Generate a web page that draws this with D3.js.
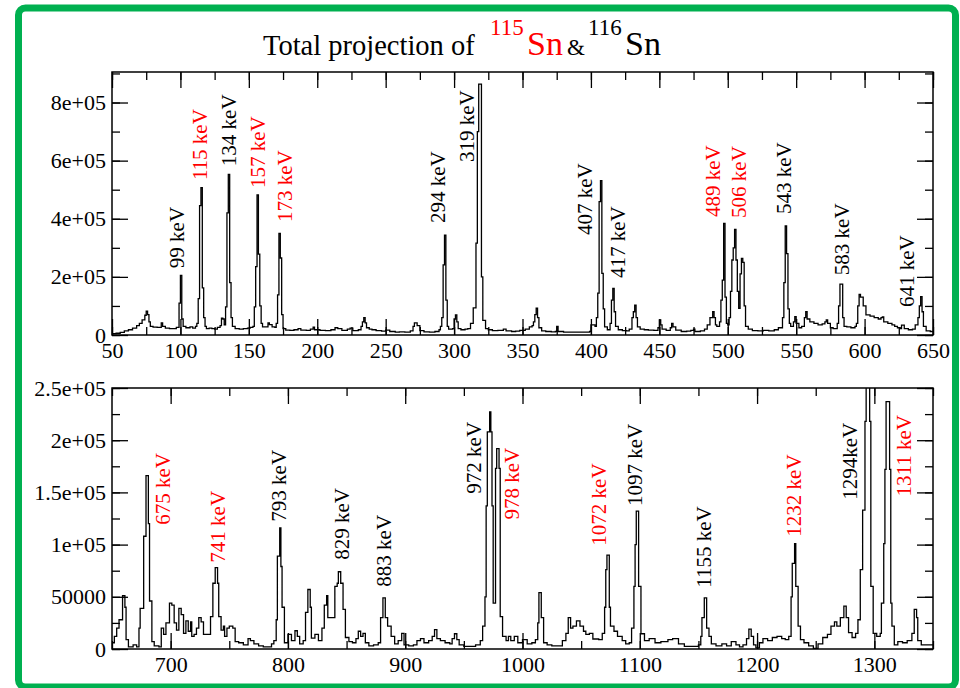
<!DOCTYPE html>
<meta charset="utf-8">
<body style="margin:0">
<svg id="chart" width="960" height="688"></svg>
<script src="https://cdn.jsdelivr.net/npm/d3@7"></script>
<script>

// top spectrum 50-650 keV, [energy, counts]
var topSpectrum = [
  [50,5000],[53,6000],[56,9000],[59,14000],[62,18000],[65,24000],[68,32000],[70,40000],[72,52000],[74,68000],
  [75,82000],[76,70000],[77,45000],[78,30000],[80,27000],[83,26000],[86,42000],[87,30000],[89,24000],[92,22000],
  [95,22000],[97,26000],[99,110000],[100,205000],[101,55000],[102,30000],[104,25000],[107,28000],[109,24000],[111,30000],
  [112,40000],[113,125000],[114,445000],[115,507000],[116,162000],[117,60000],[118,30000],[119,22000],[121,24000],[123,22000],
  [125,20000],[127,26000],[129,32000],[130,58000],[131,55000],[132,35000],[133,97000],[134,420000],[135,553000],[136,180000],
  [137,60000],[138,30000],[140,22000],[143,20000],[146,22000],[149,24000],[151,26000],[153,30000],[154,97000],[155,235000],
  [156,482000],[157,278000],[158,100000],[159,40000],[160,28000],[162,28000],[164,42000],[165,36000],[167,28000],[169,26000],
  [170,40000],[171,138000],[172,350000],[173,265000],[174,70000],[175,22000],[177,17000],[180,16000],[183,18000],[186,22000],
  [188,17000],[192,16000],[195,20000],[197,27000],[198,18000],[202,16000],[206,15000],[210,18000],[213,25000],[215,22000],
  [218,16000],[222,20000],[224,24000],[226,15000],[230,18000],[232,30000],[233,45000],[234,60000],[235,42000],[236,25000],
  [238,20000],[240,18000],[243,15000],[247,13000],[250,17000],[253,12000],[257,10000],[260,11000],[264,10000],[268,14000],
  [270,30000],[271,42000],[273,32000],[275,15000],[278,11000],[282,10000],[286,12000],[289,18000],[290,30000],[291,60000],
  [292,241000],[293,344000],[294,120000],[295,30000],[296,20000],[299,22000],[300,55000],[301,69000],[302,45000],[303,22000],
  [305,18000],[308,20000],[310,22000],[312,40000],[314,93000],[316,316000],[317,700000],[318,863000],[320,200000],[321,50000],
  [323,22000],[325,18000],[328,15000],[332,16000],[336,20000],[338,14000],[342,12000],[345,13000],[348,16000],[352,20000],
  [355,28000],[357,32000],[358,45000],[359,70000],[360,92000],[361,60000],[362,25000],[364,14000],[367,12000],[371,11000],
  [374,12000],[375,30000],[376,12000],[380,10000],[385,10000],[390,10000],[395,10000],[399,12000],[400,35000],[403,30000],
  [404,60000],[405,144000],[406,459000],[407,531000],[408,212000],[409,90000],[410,28000],[412,18000],[414,40000],[415,120000],
  [416,160000],[417,80000],[418,30000],[420,18000],[423,15000],[426,14000],[428,20000],[430,60000],[431,80000],[432,103000],
  [433,60000],[434,28000],[436,20000],[439,18000],[442,17000],[446,16000],[449,25000],[450,52000],[451,35000],[452,20000],
  [455,16000],[458,25000],[459,40000],[460,28000],[462,17000],[466,12000],[470,13000],[473,16000],[475,20000],[476,12000],
  [480,14000],[483,20000],[485,35000],[487,60000],[489,80000],[490,60000],[491,35000],[492,30000],[494,45000],[495,120000],
  [496,189000],[497,384000],[498,130000],[499,40000],[500,35000],[501,60000],[502,150000],[503,258000],[504,300000],[505,363000],
  [506,258000],[507,150000],[508,92000],[509,210000],[510,264000],[511,250000],[512,100000],[513,30000],[515,20000],[518,15000],
  [522,14000],[526,16000],[530,14000],[534,18000],[537,25000],[540,60000],[541,180000],[542,375000],[543,280000],[544,90000],
  [545,40000],[546,30000],[548,45000],[549,63000],[550,40000],[552,25000],[554,30000],[556,60000],[557,80000],[558,55000],
  [560,45000],[563,40000],[566,35000],[569,38000],[571,45000],[572,52000],[573,40000],[575,25000],[577,22000],[580,40000],
  [581,100000],[582,175000],[583,175000],[584,60000],[585,30000],[587,28000],[590,25000],[593,30000],[594,40000],[595,100000],
  [596,140000],[597,130000],[599,100000],[601,69000],[604,65000],[607,60000],[610,55000],[612,60000],[613,62000],[614,45000],
  [617,40000],[620,35000],[622,30000],[624,25000],[626,22000],[627,34000],[628,34000],[629,22000],[632,18000],[635,20000],
  [637,35000],[639,60000],[640,100000],[641,132000],[642,80000],[643,30000],[645,14000],[648,12000],[650,12000]
];

// bottom spectrum 650-1350 keV, [energy, counts]
var bottomSpectrum = [
  [650,6000],[652,12000],[654,20000],[656,28000],[659,51000],[661,40000],[662,9000],[664,2000],[668,4000],[671,2000],
  [673,20000],[674,39000],[677,108000],[679,166000],[681,120000],[682,46000],[684,7000],[686,3000],[690,2000],[692,20000],
  [694,14000],[696,25000],[699,44000],[701,42000],[703,25000],[705,18000],[707,39000],[709,33000],[711,15000],[713,27000],
  [715,17000],[717,26000],[718,12000],[720,14000],[722,20000],[724,30000],[726,26000],[728,14000],[731,14000],[734,31000],
  [736,63000],[738,78000],[740,63000],[741,31000],[743,18000],[745,22000],[746,12000],[748,20000],[750,22000],[753,20000],
  [755,7000],[758,6000],[762,4000],[766,10000],[768,8000],[771,5000],[775,3000],[779,2000],[783,2000],[786,5000],
  [788,8000],[790,28000],[791,89000],[793,116000],[794,79000],[795,40000],[797,6000],[800,14000],[803,8000],[806,17500],
  [808,12000],[810,5000],[813,8000],[815,35000],[817,57000],[819,40000],[820,10500],[823,14000],[826,8000],[829,20000],
  [831,42000],[833,51000],[834,30000],[838,30000],[840,60000],[842,63000],[843,74000],[845,63000],[847,38000],[849,11000],
  [852,7000],[855,6000],[858,10000],[860,17000],[862,12000],[864,15000],[866,6000],[869,3000],[873,4000],[877,6000],
  [879,30000],[881,49000],[883,30000],[885,22000],[888,12000],[891,5000],[894,8000],[897,15000],[899,4000],[903,3000],
  [907,4000],[910,8000],[913,10000],[916,6000],[920,8000],[923,12000],[925,18500],[927,10000],[930,8000],[934,6000],
  [938,5000],[940,10000],[942,14600],[944,9000],[946,4000],[950,2500],[955,2500],[960,4000],[964,8000],[966,22000],
  [968,50000],[969,137000],[970,208000],[972,227000],[973,208000],[974,137000],[975,44000],[977,173000],[978,192000],[980,173000],
  [981,31000],[983,12000],[986,8000],[988,12000],[990,8000],[993,12000],[996,6000],[1000,9000],[1004,5000],[1008,6000],
  [1011,9000],[1013,25000],[1014,54000],[1016,30000],[1018,6000],[1021,4000],[1025,3000],[1030,3000],[1034,8000],[1037,15000],
  [1039,30000],[1041,20000],[1043,22000],[1046,27000],[1049,22000],[1052,17000],[1054,14000],[1057,15000],[1060,9600],[1065,9000],
  [1068,15000],[1070,40000],[1071,76000],[1072,90000],[1074,40000],[1075,22000],[1078,17000],[1081,12000],[1085,8000],[1088,5000],
  [1091,6000],[1093,20000],[1095,60000],[1096,100000],[1097,132000],[1099,60000],[1101,14600],[1104,8000],[1108,10000],[1113,6000],
  [1118,7000],[1124,9000],[1128,10000],[1133,5000],[1138,2600],[1145,2600],[1150,4000],[1152,12000],[1153,30000],[1155,49000],
  [1157,20000],[1159,12000],[1161,5000],[1165,3000],[1170,5000],[1174,3000],[1178,7000],[1182,4000],[1185,2000],[1188,4000],
  [1191,10000],[1193,19000],[1195,12000],[1197,4000],[1199,1000],[1202,6000],[1205,10000],[1209,8000],[1213,11000],[1217,12000],
  [1221,10000],[1224,9000],[1227,12000],[1229,50000],[1230,82000],[1232,101000],[1233,60000],[1235,22000],[1237,9000],[1240,6000],
  [1244,3000],[1248,500],[1252,5000],[1256,11000],[1260,14000],[1263,22000],[1266,26000],[1268,22000],[1271,30000],[1274,41000],
  [1276,30000],[1278,15600],[1281,11000],[1284,15000],[1286,28000],[1288,76000],[1290,133000],[1292,218000],[1293,270000],[1296,218000],
  [1297,60000],[1299,15000],[1302,12000],[1305,15000],[1306,44000],[1308,101000],[1309,172000],[1310,237000],[1313,172000],[1314,44000],
  [1315,22000],[1317,4000],[1320,7000],[1324,6000],[1328,8000],[1332,15000],[1334,38000],[1336,30000],[1337,8000],[1340,4000],
  [1345,4000],[1350,4000]
];

// peak labels: text, energy/counts where the label starts, isotope
var topLabels = ["99 keV","115 keV","134 keV","157 keV","173 keV","294 keV","319 keV","407 keV","417 keV","489 keV","506 keV","543 keV","583 keV","641 keV"];
var topLabelE = [97.5,114.3,135.5,156.7,176.4,288.3,309.4,395.7,419.8,489,508.2,541.1,583.3,630.8];
var topLabelC = [230000,533000,581000,506000,389000,385000,595000,344000,196000,406000,403000,416000,206000,96000];
var topLabelIso = [116,115,116,115,115,116,116,116,116,115,115,116,116,116];

var bottomLabels = ["675 keV","741 keV","793 keV","829 keV","883 keV","972 keV","978 keV","1072 keV","1097 keV","1155 keV","1232 keV","1294keV","1311 keV"];
var bottomLabelE = [693.5,740.4,792.4,845.8,881.9,958.6,990.8,1064.6,1095.9,1154.1,1230.9,1278.6,1324.7];
var bottomLabelC = [119000,82700,122000,85500,59700,148800,124000,99000,137000,58700,107600,143000,146000];
var bottomLabelIso = [115,115,116,116,116,116,115,115,116,116,115,116,115];

var topXTicks = [50,100,150,200,250,300,350,400,450,500,550,600,650];
var topYTicks = [0,200000,400000,600000,800000];
var topYLabels = ["0","2e+05","4e+05","6e+05","8e+05"];
var bottomXTicks = [700,800,900,1000,1100,1200,1300];
var bottomYTicks = [0,50000,100000,150000,200000,250000];
var bottomYLabels = ["0","50000","1e+05","1.5e+05","2e+05","2.5e+05"];

var isoColor = { 115: "#ff0000", 116: "#000000" };

var svg = d3.select("#chart");

// green frame round the picture
svg.append("rect")
    .attr("x", 18.5).attr("y", 8)
    .attr("width", 937).attr("height", 679)
    .attr("rx", 7)
    .attr("fill", "#fff")
    .attr("stroke", "#00b050")
    .attr("stroke-width", 7);

// title pieces
var titleText = ["Total projection of", "115", "Sn", "&", "116", "Sn"];
var titleX = [263, 490, 527, 567, 588, 625];
var titleY = [55, 35, 55, 55, 35, 55];
var titleSize = [28.5, 23, 34, 23, 23, 34];
var titleColor = ["#000", "#ff0000", "#ff0000", "#000", "#000", "#000"];

svg.selectAll("text.title")
    .data(titleText)
  .enter().append("text")
    .attr("class", "title")
    .attr("x", function(d, i) { return titleX[i]; })
    .attr("y", function(d, i) { return titleY[i]; })
    .attr("font-size", function(d, i) { return titleSize[i]; })
    .attr("fill", function(d, i) { return titleColor[i]; })
    .style("font-family", function() { return "'Liberation Serif'"; })
    .text(function(d) { return d; });

function panel(opt) {
  var x = d3.scaleLinear().domain(opt.xDomain).range([opt.left, opt.right]);
  var y = d3.scaleLinear().domain(opt.yDomain).range([opt.bottom, opt.top]);
  var g = svg.append("g");
  var id = "clip" + opt.name;

  g.append("clipPath").attr("id", id)
    .append("rect")
      .attr("x", opt.left).attr("y", opt.top)
      .attr("width", opt.right - opt.left).attr("height", opt.bottom - opt.top);

  var xMinor = d3.range(opt.xDomain[0], opt.xDomain[1] + 1, opt.xMinor);
  var yMinor = d3.range(opt.yDomain[0], opt.yDomain[1] + 1, opt.yMinor);

  function ax(axis, t) {
    var a = g.append("g").attr("transform", t).call(axis)
        .attr("font-family", null).attr("font-size", null);
    a.select(".domain").remove();
    a.selectAll("line").attr("stroke", "#000").attr("stroke-width", 1.3);
    a.selectAll("text")
        .attr("fill", "#000")
        .attr("font-size", 22)
        .style("font-family", function() { return "'Liberation Serif'"; });
    return a;
  }
  var tb = "translate(0," + opt.bottom + ")", tt = "translate(0," + opt.top + ")",
      tl = "translate(" + opt.left + ",0)", tr = "translate(" + opt.right + ",0)";

  // minor ticks, all four sides, pointing in
  ax(d3.axisBottom(x).tickValues(xMinor).tickSize(-8).tickFormat(""), tb);
  ax(d3.axisTop(x).tickValues(xMinor).tickSize(-8).tickFormat(""), tt);
  ax(d3.axisLeft(y).tickValues(yMinor).tickSize(-8).tickFormat(""), tl);
  ax(d3.axisRight(y).tickValues(yMinor).tickSize(-8).tickFormat(""), tr);

  // major ticks
  ax(d3.axisBottom(x).tickValues(opt.xTicks).tickSize(-16).tickPadding(7).tickFormat(d3.format("d")), tb);
  ax(d3.axisTop(x).tickValues(opt.xTicks).tickSize(-16).tickFormat(""), tt);
  ax(d3.axisLeft(y).tickValues(opt.yTicks).tickSize(-16).tickPadding(6)
      .tickFormat(function(d, i) { return opt.yLabels[i]; }), tl);
  ax(d3.axisRight(y).tickValues(opt.yTicks).tickSize(-16).tickFormat(""), tr);

  var line = d3.line()
      .x(function(d) { return x(d[0]); })
      .y(function(d) { return y(d[1]); })
      .curve(d3.curveStepAfter);

  g.append("path")
      .datum(opt.data)
      .attr("fill", "none")
      .attr("stroke", "#000")
      .attr("stroke-width", 1.3)
      .attr("clip-path", "url(#" + id + ")")
      .attr("d", line);

  g.append("rect")
      .attr("fill", "none")
      .attr("stroke", "#000")
      .attr("stroke-width", 1.5)
      .attr("x", opt.left).attr("y", opt.top)
      .attr("width", opt.right - opt.left).attr("height", opt.bottom - opt.top);

  g.selectAll("text.peak")
      .data(opt.labels)
    .enter().append("text")
      .attr("class", "peak")
      .attr("font-size", 21)
      .style("font-family", function() { return "'Liberation Serif'"; })
      .attr("transform", function(d, i) {
        return "translate(" + x(opt.labelE[i]) + "," + y(opt.labelC[i]) + ") rotate(-90)";
      })
      .attr("dy", "0.35em")
      .attr("fill", function(d, i) { return isoColor[opt.labelIso[i]]; })
      .text(function(d) { return d; });
}

panel({
  name: "top", data: topSpectrum,
  xDomain: [50, 650], yDomain: [0, 905000],
  left: 112, right: 933, top: 72, bottom: 335,
  xTicks: topXTicks, xMinor: 25,
  yTicks: topYTicks, yLabels: topYLabels, yMinor: 100000,
  labels: topLabels, labelE: topLabelE, labelC: topLabelC, labelIso: topLabelIso
});

panel({
  name: "bottom", data: bottomSpectrum,
  xDomain: [650, 1350], yDomain: [0, 250000],
  left: 112, right: 933, top: 388, bottom: 649,
  xTicks: bottomXTicks, xMinor: 50,
  yTicks: bottomYTicks, yLabels: bottomYLabels, yMinor: 25000,
  labels: bottomLabels, labelE: bottomLabelE, labelC: bottomLabelC, labelIso: bottomLabelIso
});

</script>
</body>
